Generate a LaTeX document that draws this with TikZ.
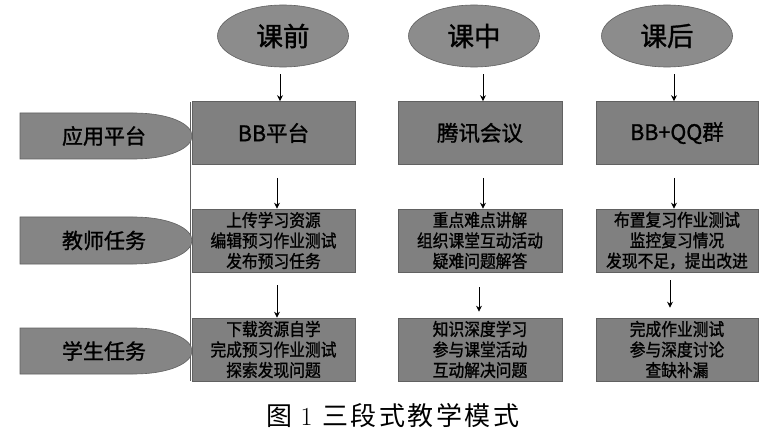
\documentclass[tikz,border=0pt]{standalone}
\usepackage{fontspec}
\setmainfont{Noto Sans CJK SC}
\newfontfamily\cjk{Noto Sans CJK SC}[FakeBold=1.2]
\newfontfamily\cjknar{Noto Sans CJK SC}[FakeBold=1.2,FakeStretch=0.9]
\newfontfamily\cjkcap{Noto Sans CJK SC}
\newfontfamily\lmr{Latin Modern Roman}
\usetikzlibrary{arrows.meta,shapes.geometric}
\definecolor{boxfill}{gray}{0.50}
\definecolor{ellfill}{gray}{0.55}
\definecolor{labfill}{gray}{0.52}
\definecolor{edge}{gray}{0.38}
\tikzset{
  phase/.style={ellipse, draw=edge, fill=ellfill, line width=0.6pt, minimum width=131pt, minimum height=62pt, inner sep=0pt, font=\fontsize{26.5}{30}\selectfont\cjk},
  cell/.style={rectangle, draw=edge, fill=boxfill, line width=0.6pt, minimum height=63pt, inner sep=0pt, align=center, font=\fontsize{17.5}{20.5}\selectfont\cjknar},
  plat/.style={cell, font=\fontsize{21.5}{24}\selectfont\cjk},
  lab/.style={draw=edge, fill=labfill, line width=0.6pt},
  labtxt/.style={font=\fontsize{21}{24}\selectfont\cjk, inner sep=0pt},
  arr/.style={-{Stealth[length=6pt,width=6pt]}, line width=0.8pt, black},
}
\newcommand\capsp{\hspace{2.5pt}}
\begin{document}
\begin{tikzpicture}[x=1pt,y=-1pt]
\useasboundingbox (0,0) rectangle (780,441);
\fill[white] (0,0) rectangle (780,441);
% phases
\node[phase] (e1) at (283,36) {课前};
\node[phase] (e2) at (474,36) {课中};
\node[phase] (e3) at (667,36) {课后};
% boxes
\node[plat, minimum width=163pt] (b11) at (273.5,133) {BB平台};
\node[plat, minimum width=164pt] (b12) at (480,133) {腾讯会议};
\node[plat, minimum width=162pt] (b13) at (677,133) {BB+QQ群};
\node[cell, minimum width=163pt] (b21) at (273.5,240.5) {上传学习资源\\编辑预习作业测试\\发布预习任务};
\node[cell, minimum width=164pt] (b22) at (480,240.5) {重点难点讲解\\组织课堂互动活动\\疑难问题解答};
\node[cell, minimum width=162pt] (b23) at (677,240.5) {布置复习作业测试\\监控复习情况\\发现不足，提出改进};
\node[cell, minimum width=163pt] (b31) at (273.5,349.5) {下载资源自学\\完成预习作业测试\\探索发现问题};
\node[cell, minimum width=164pt] (b32) at (480,349.5) {知识深度学习\\参与课堂活动\\互动解决问题};
\node[cell, minimum width=162pt] (b33) at (677,349.5) {完成作业测试\\参与深度讨论\\查缺补漏};
% vertical line
\coordinate (vtop) at (190,102);
\coordinate (vbot) at (190,381);
\draw[edge, line width=0.7pt] (vtop) -- (vbot);
% left labels
\foreach \t/\b/\txt/\nm in {113/159/应用平台/l1, 217/264/教师任务/l2, 328/374/学生任务/l3}{
  \pgfmathsetmacro{\m}{(\t+\b)/2}
  \draw[lab] (20,\t) -- (133,\t) .. controls (170,\t) and (192,\m-12) .. (192,\m)
     .. controls (192,\m+12) and (170,\b) .. (133,\b) -- (20,\b) -- cycle;
  \node[labtxt] (\nm) at (104,\m) {\txt};
}
% arrows row 1
\draw[arr] ([shift={(-3,7)}]e1.south) -- ([xshift=6.5]b11.north);
\draw[arr] ([shift={(9,7)}]e2.south) -- ([xshift=3]b12.north);
\draw[arr] ([shift={(7,7)}]e3.south) -- ([xshift=-3]b13.north);
% arrows row 2
\draw[arr] ([shift={(3.5,13)}]b11.south) -- ([xshift=3.5]b21.north);
\draw[arr] ([shift={(3,13)}]b12.south) -- ([xshift=3]b22.north);
\draw[arr] ([shift={(-3,13)}]b13.south) -- ([xshift=-3]b23.north);
% arrows row 3
\draw[arr] ([shift={(3.5,13)}]b21.south) -- ([xshift=3.5]b31.north);
\draw[arr] ([shift={(-1,15)}]b22.south) -- ([shift={(-1,-6)}]b32.north);
\draw[arr] ([shift={(-7,8)}]b23.south) -- ([shift={(-7,-10)}]b33.north);
% caption
\node[font=\fontsize{26}{29}\selectfont\cjkcap, inner sep=0pt] (cap) at (393,416) {图\hspace{8pt}{\lmr 1}\hspace{10pt}三\capsp 段\capsp 式\capsp 教\capsp 学\capsp 模\capsp 式};
\end{tikzpicture}
\end{document}
